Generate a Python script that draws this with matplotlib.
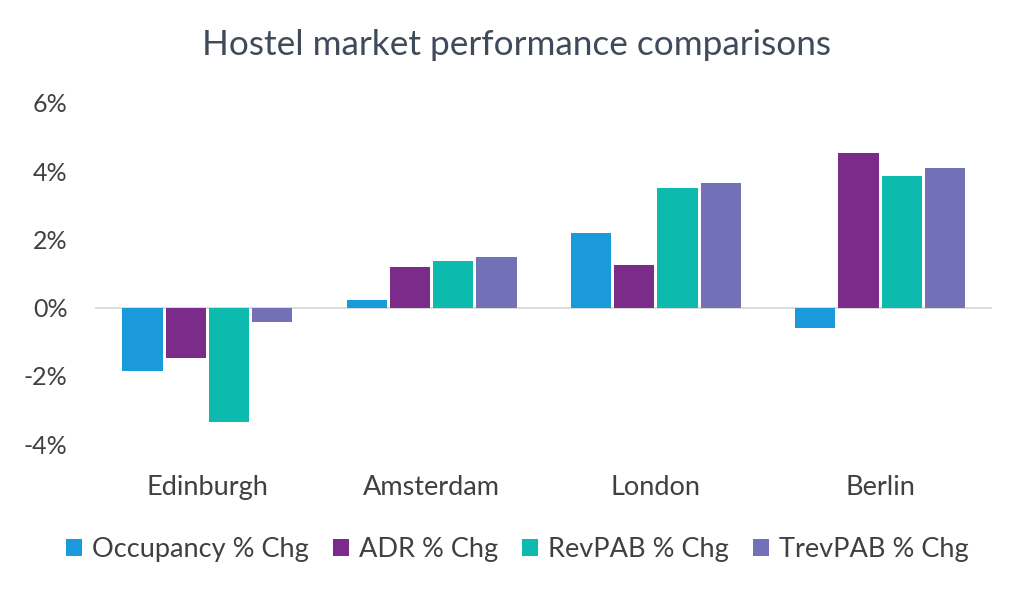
import matplotlib
matplotlib.use("Agg")
import matplotlib.pyplot as plt
import numpy as np
from matplotlib.ticker import FuncFormatter

categories = ["Edinburgh", "Amsterdam", "London", "Berlin"]
series_names = ["Occupancy % Chg", "ADR % Chg", "RevPAB % Chg", "TrevPAB % Chg"]
occupancy = [-1.85, 0.21, 2.20, -0.59]
adr = [-1.47, 1.20, 1.26, 4.52]
revpab = [-3.34, 1.38, 3.52, 3.87]
trevpab = [-0.41, 1.47, 3.64, 4.08]
colors = ["#1A9ADA", "#7B2C8B", "#0DBBAE", "#7270B7"]
yticks = [-4, -2, 0, 2, 4, 6]

plt.rcParams['font.family'] = ['Lato', 'DejaVu Sans']

fig = plt.figure(figsize=(10.24, 5.94), dpi=100)
ax = fig.add_axes([0.093, 0.2525, 0.876, 0.5741])

x = np.arange(len(categories))
bw = 0.18
gap = 0.013
data = [occupancy, adr, revpab, trevpab]
for i, (vals, name, c) in enumerate(zip(data, series_names, colors)):
    offs = (i - 1.5) * (bw + gap)
    ax.bar(x + offs, vals, width=bw, color=c, label=name, zorder=3)

ax.axhline(0, color="#D9D9D9", lw=1.3, zorder=2)
ax.set_xlim(-0.5, len(categories) - 0.5)
ax.set_ylim(-4, 6)
ax.set_yticks(yticks)
ax.yaxis.set_major_formatter(FuncFormatter(lambda v, p: f"{v:.0f}%"))
ax.set_xticks(x)
ax.set_xticklabels(categories)
for s in ax.spines.values():
    s.set_visible(False)
ax.tick_params(axis="both", length=0, colors="#404040")
ax.tick_params(axis="y", labelsize=18, pad=20)
ax.tick_params(axis="x", labelsize=19.5, pad=22)

fig.text(0.504, 0.924, "Hostel market performance comparisons", ha="center", va="center",
         fontsize=25.3, color="#3F4A5A")

leg = fig.legend(loc="center", bbox_to_anchor=(0.505, 0.075), ncol=4, frameon=False,
                 fontsize=19.5, handlelength=0.6, handleheight=0.6, handletextpad=0.35,
                 columnspacing=0.9, labelcolor="#404040")

fig.savefig("out.png", dpi=100, facecolor="white")
